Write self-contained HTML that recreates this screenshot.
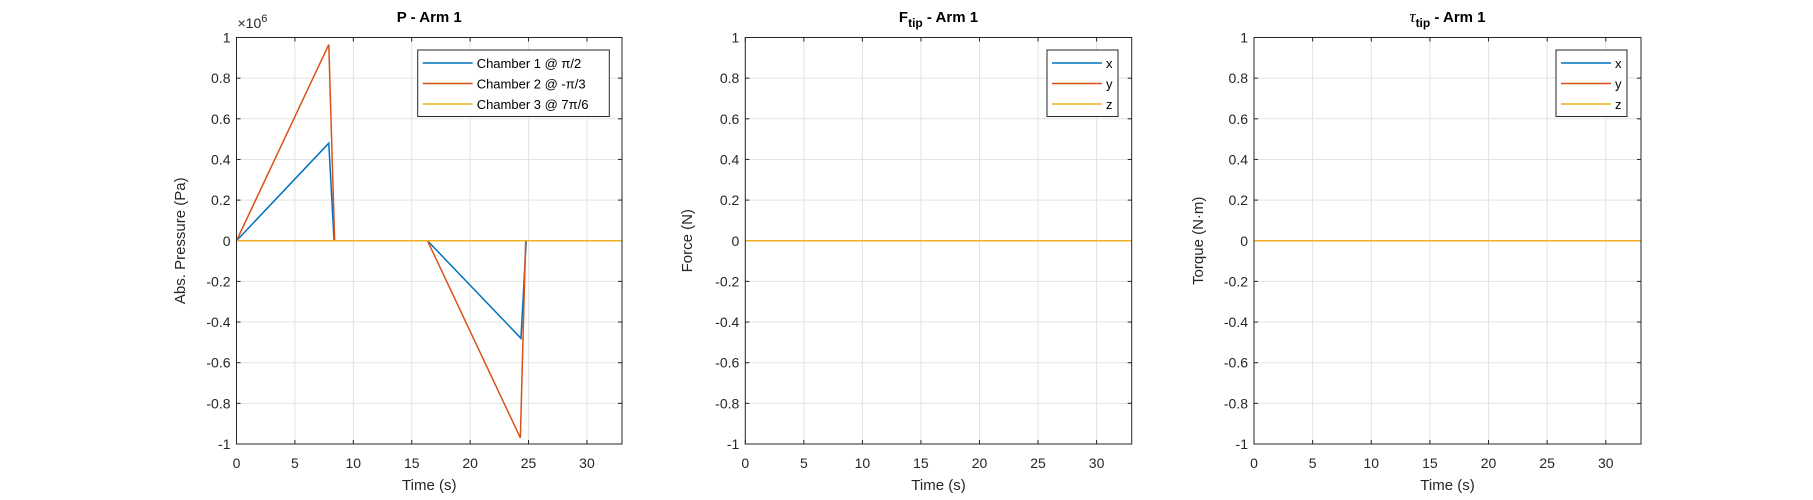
<!DOCTYPE html>
<html><head><meta charset="utf-8"><style>
html,body{margin:0;padding:0;background:#fff;}
svg{display:block;font-family:"Liberation Sans",Arial,sans-serif;}
</style></head><body>
<svg id="fig" width="1813" height="500"></svg>
<script>
const xTicks=[0,5,10,15,20,25,30];
const yTicks=[-1,-0.8,-0.6,-0.4,-0.2,0,0.2,0.4,0.6,0.8,1];
const yTickLabels=["-1","-0.8","-0.6","-0.4","-0.2","0","0.2","0.4","0.6","0.8","1"];
const pTime1=[0,7.9,8.35,16.35,24.35,24.8,33];
const pChamber1=[0,0.48,0,0,-0.48,0,0];
const pTime2=[0,7.9,8.4,16.35,24.3,24.75,33];
const pChamber2=[0,0.965,0,0,-0.97,0,0];
const pTime3=[0,33];
const pChamber3=[0,0];
const zeroTime=[0,33];
const zeroVals=[0,0];
const colors=["#0072BD","#D95319","#EDB120"];
const NS="http://www.w3.org/2000/svg";
const svg=document.getElementById('fig');
function el(t,a,p){const e=document.createElementNS(NS,t);for(const k in a)e.setAttribute(k,a[k]);(p||svg).appendChild(e);return e;}
const panels=[
 {l:236.5,r:622,title:"P - Arm 1",ylabel:"Abs. Pressure (Pa)",ylx:185,exp:true,
  series:[[pTime1,pChamber1],[pTime2,pChamber2],[pTime3,pChamber3]],
  legend:["Chamber 1 @ π/2","Chamber 2 @ -π/3","Chamber 3 @ 7π/6"],lg:[417.7,609.3]},
 {l:745.3,r:1131.7,title:"F",sub:"tip",ylabel:"Force (N)",ylx:692,
  series:[[zeroTime,zeroVals],[zeroTime,zeroVals],[zeroTime,zeroVals]],legend:["x","y","z"],lg:[1047,1118]},
 {l:1254,r:1641,title:"τ",sub:"tip",tau:true,ylabel:"Torque (N·m)",ylx:1203,
  series:[[zeroTime,zeroVals],[zeroTime,zeroVals],[zeroTime,zeroVals]],legend:["x","y","z"],lg:[1556,1627]}
];
const T=37.5,B=444;
panels.forEach((p,pi)=>{
 const g=el('g',{});
 
 
 const X=v=>p.l+(v/33)*(p.r-p.l), Y=v=>T+(1-v)/2*(B-T);
 el('rect',{x:p.l,y:T,width:p.r-p.l,height:B-T,fill:'#fff'},g);
 xTicks.forEach(t=>{
  el('line',{x1:X(t),x2:X(t),y1:T,y2:B,stroke:'#e3e3e3','stroke-width':1},g);
  el('line',{x1:X(t),x2:X(t),y1:B,y2:B-4,stroke:'#262626'},g);
  el('line',{x1:X(t),x2:X(t),y1:T,y2:T+4,stroke:'#262626'},g);
  const tx=el('text',{x:X(t),y:468,'font-size':14,'text-anchor':'middle',fill:'#262626'},g);tx.textContent=t;
  
 });
 yTicks.forEach((t,i)=>{
  el('line',{x1:p.l,x2:p.r,y1:Y(t),y2:Y(t),stroke:'#e3e3e3','stroke-width':1},g);
  el('line',{x1:p.l,x2:p.l+4,y1:Y(t),y2:Y(t),stroke:'#262626'},g);
  el('line',{x1:p.r,x2:p.r-4,y1:Y(t),y2:Y(t),stroke:'#262626'},g);
  const tx=el('text',{x:p.l-6,y:Y(t)+5,'font-size':14,'text-anchor':'end',fill:'#262626'},g);tx.textContent=yTickLabels[i];
  
 });
 p.series.forEach((s,si)=>{
  const pts=s[0].map((t,i)=>X(t)+','+Y(s[1][i])).join(' ');
  const pl=el('polyline',{points:pts,fill:'none',stroke:colors[si],'stroke-width':1.5},g);
  
  
 });
 el('rect',{x:p.l,y:T,width:p.r-p.l,height:B-T,fill:'none',stroke:'#262626','stroke-width':1},g);
 const tt=el('text',{x:(p.l+p.r)/2,y:22,'font-size':15,'font-weight':'bold','text-anchor':'middle',fill:'#000'},g);
 
 
 if(p.sub){
  const a=el('tspan',{'font-style':p.tau?'italic':'normal','font-weight':p.tau?'normal':'bold','font-family':p.tau?'"Liberation Serif",serif':'inherit','font-size':p.tau?17:15},tt);a.textContent=p.title;
  const b=el('tspan',{dy:5,'font-size':12},tt);b.textContent=p.sub;
  const c=el('tspan',{dy:-5},tt);c.textContent=" - Arm 1";
 } else tt.textContent=p.title;
 if(p.exp){
  const e=el('text',{x:p.l+1,y:28,'font-size':14,fill:'#262626'},g);
  
  const a=el('tspan',{},e);a.textContent="×10";
  const b=el('tspan',{dy:-6,'font-size':11},e);b.textContent="6";
 }
 const xl=el('text',{x:(p.l+p.r)/2,y:490,'font-size':15,'text-anchor':'middle',fill:'#262626'},g);xl.textContent="Time (s)";
 
 
 const yl=el('text',{x:p.ylx,y:(T+B)/2,'font-size':15,'text-anchor':'middle',fill:'#262626',transform:`rotate(-90 ${p.ylx} ${(T+B)/2})`},g);yl.textContent=p.ylabel;
 
 
 const lg=el('g',{},g);
 
 
 el('rect',{x:p.lg[0],y:50,width:p.lg[1]-p.lg[0],height:66.5,fill:'#fff',stroke:'#262626','stroke-width':1},lg);
 p.legend.forEach((L,i)=>{
  const y=63+i*20.5;
  const ent=el('g',{},lg);
  
  
  el('line',{x1:p.lg[0]+5,x2:p.lg[0]+55,y1:y,y2:y,stroke:colors[i],'stroke-width':1.5},ent);
  const t=el('text',{x:p.lg[0]+59,y:y+5,'font-size':13,fill:'#000'},ent);t.textContent=L;
 });
});
</script>
</body></html>
